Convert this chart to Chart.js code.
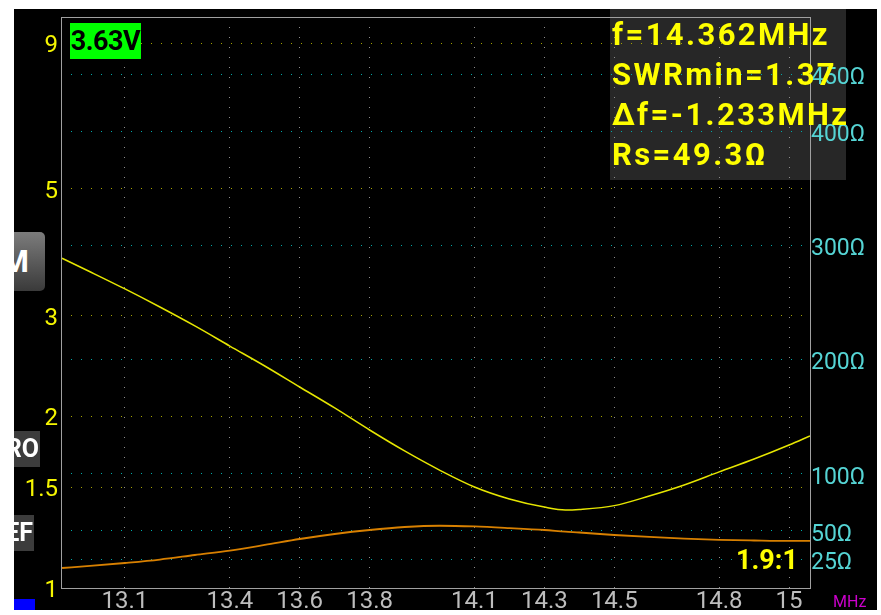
<!DOCTYPE html>
<html>
<head>
<meta charset="utf-8">
<title>SWR sweep</title>
<script src="https://cdn.jsdelivr.net/npm/chart.js@4.4.0/dist/chart.umd.min.js"></script>
<style>

html, body {
    margin: 0;
    padding: 0;
    width: 881px;
    height: 615px;
    overflow: hidden;
    background: #ffffff;
    font-family: Roboto, "Liberation Sans", sans-serif;
}

#screen {
    position: absolute;
    left: 14px;
    top: 9px;
    width: 863px;
    height: 601px;
    background: #000000;
    overflow: hidden;
}

#sweepChart {
    position: absolute;
    left: 0;
    top: 0;
    z-index: 2;
}

#infoPanel {
    position: absolute;
    left: 596px;
    top: 0;
    width: 236px;
    height: 171px;
    background: #272727;
    z-index: 1;
}

#infoText {
    position: absolute;
    left: 598px;
    top: 6px;
    z-index: 3;
    color: #ffff00;
    font-weight: bold;
    font-size: 31px;
    line-height: 40px;
    letter-spacing: 2.4px;
    white-space: nowrap;
}

#voltage {
    position: absolute;
    left: 56px;
    top: 14px;
    width: 71px;
    height: 36px;
    background: #00ff00;
    color: #000000;
    font-weight: bold;
    font-size: 27px;
    line-height: 37px;
    text-align: center;
    letter-spacing: -0.5px;
    z-index: 3;
}

#ratio {
    position: absolute;
    left: 722px;
    top: 535px;
    color: #ffff00;
    font-weight: bold;
    font-size: 27px;
    z-index: 3;
}

#unit {
    position: absolute;
    left: 819px;
    top: 583px;
    color: #cc00cc;
    font-size: 16px;
    z-index: 3;
}

.sideBtn {
    position: absolute;
    color: #ffffff;
    font-weight: bold;
    text-align: right;
    z-index: 3;
}

#btnM {
    left: -25px;
    top: 223px;
    width: 56px;
    height: 59px;
    line-height: 59px;
    font-size: 31px;
    border-radius: 5px;
    background: linear-gradient(#7c7c7c, #3a3a3a);
    box-sizing: border-box;
    padding-right: 16px;
}

#btnRO {
    left: -30px;
    top: 422px;
    width: 56px;
    height: 36px;
    line-height: 36px;
    font-size: 25px;
    background: #3c3c3c;
    box-sizing: border-box;
    padding-right: 1px;
}

#btnEF {
    left: -36px;
    top: 506px;
    width: 56px;
    height: 36px;
    line-height: 36px;
    font-size: 25px;
    background: #3c3c3c;
    box-sizing: border-box;
    padding-right: 1px;
}

#blueMark {
    position: absolute;
    left: 0;
    top: 590px;
    width: 21px;
    height: 11px;
    background: #0000ff;
    z-index: 3;
}

</style>
</head>
<body>

<div id="screen">

    <div id="infoPanel"></div>

    <canvas id="sweepChart" width="863" height="601"></canvas>

    <div id="infoText">
        <div>f=14.362MHz</div>
        <div>SWRmin=1.37</div>
        <div>Δf=-1.233MHz</div>
        <div>Rs=49.3Ω</div>
    </div>

    <div id="voltage">3.63V</div>

    <div id="ratio">1.9:1</div>

    <div id="unit">MHz</div>

    <div class="sideBtn" id="btnM">M</div>
    <div class="sideBtn" id="btnRO">RO</div>
    <div class="sideBtn" id="btnEF">EF</div>

    <div id="blueMark"></div>

</div>

<script>

/*==================================================
SWEEP DATA
==================================================*/

const freqMHz = [
    12.92, 13.0, 13.1, 13.2, 13.3, 13.4, 13.5, 13.6, 13.7, 13.8,
    13.9, 14.0, 14.1, 14.2, 14.3, 14.36, 14.4, 14.5, 14.6, 14.7,
    14.8, 14.9, 15.0, 15.06
];

const swrValues = [
    3.78, 3.58, 3.34, 3.105, 2.877, 2.653, 2.448, 2.249, 2.067, 1.891,
    1.738, 1.609, 1.503, 1.432, 1.386, 1.37, 1.373, 1.394, 1.449, 1.515,
    1.597, 1.682, 1.78, 1.846
];

const rsOhms = [
    17.5, 19.3, 21.9, 24.9, 28.9, 32.8, 37.7, 42.9, 47.3, 50.8,
    53.4, 54.5, 53.9, 52.5, 50.8, 49.3, 48.6, 46.4, 44.7, 43.3,
    42.2, 41.6, 41.2, 41.2
];

const freqTicks = [13.1, 13.4, 13.6, 13.8, 14.1, 14.3, 14.5, 14.8, 15];

const swrTicks = [1, 1.5, 2, 3, 5, 9];

const ohmTicks = [25, 50, 100, 200, 300, 400, 450];

/*==================================================
FRAME AROUND PLOT AREA
==================================================*/

const plotFrame = {

    id: "plotFrame",

    afterDatasetsDraw(chart) {

        const a = chart.chartArea;
        const ctx = chart.ctx;

        ctx.save();
        ctx.strokeStyle = "#a0a0a0";
        ctx.lineWidth = 1;
        ctx.strokeRect(Math.round(a.left) + 0.5, Math.round(a.top) + 0.5,
            Math.round(a.right - a.left), Math.round(a.bottom - a.top));
        ctx.restore();

    }

};

// keep the plot area fixed, whatever the label sizes are
function fixSide(s, size) {

    if (s.isHorizontal()) {

        s.height = size;
        s.paddingLeft = 0;
        s.paddingRight = 0;

    } else {

        s.width = size;
        s.paddingTop = 8;
        s.paddingBottom = 0;

    }

}

/*==================================================
CHART
==================================================*/

function createSweepChart() {

    const ctx = document.getElementById("sweepChart");

    new Chart(ctx, {

        type: "line",

        data: {

            datasets: [

                {
                    label: "SWR",
                    data: freqMHz.map((f, i) => ({ x: f, y: swrValues[i] })),
                    yAxisID: "y",
                    borderColor: "#e6e600",
                    borderWidth: 1.5,
                    pointRadius: 0,
                    cubicInterpolationMode: "monotone"
                },

                {
                    label: "Rs",
                    data: freqMHz.map((f, i) => ({ x: f, y: rsOhms[i] })),
                    yAxisID: "y1",
                    borderColor: "#d88000",
                    borderWidth: 1.8,
                    pointRadius: 0,
                    cubicInterpolationMode: "monotone"
                }

            ]

        },

        options: {

            responsive: false,

            animation: false,

            devicePixelRatio: 1,

            layout: {

                padding: { top: 8, left: 0, right: 0, bottom: 0 }

            },

            plugins: {

                legend: { display: false },

                tooltip: { enabled: false }

            },

            scales: {

                x: {

                    type: "linear",

                    min: 12.917,

                    max: 15.06,

                    afterBuildTicks: s => { s.ticks = freqTicks.map(v => ({ value: v })); },

                    afterFit: s => fixSide(s, 22),

                    ticks: {

                        color: "#bdbdbd",

                        padding: 0,

                        maxRotation: 0,

                        autoSkip: false,

                        font: { family: "Roboto", size: 24 },

                        callback: v => String(v)

                    },

                    grid: {

                        color: "#8c8c8c",

                        drawTicks: false

                    },

                    border: { display: false, dash: [1, 9] }

                },

                y: {

                    type: "logarithmic",

                    position: "left",

                    min: 1,

                    max: 10,

                    afterBuildTicks: s => { s.ticks = swrTicks.map(v => ({ value: v })); },

                    afterFit: s => fixSide(s, 47),

                    ticks: {

                        color: "#f5f500",

                        padding: 3,

                        labelOffset: 3,

                        autoSkip: false,

                        font: { family: "Roboto", size: 24 },

                        callback: v => String(v)

                    },

                    grid: {

                        color: "#a3a300",

                        drawTicks: false

                    },

                    border: { display: false, dash: [1, 9] }

                },

                y1: {

                    type: "linear",

                    position: "right",

                    min: 0,

                    max: 500,

                    afterBuildTicks: s => { s.ticks = ohmTicks.map(v => ({ value: v })); },

                    afterFit: s => fixSide(s, 67),

                    ticks: {

                        color: "#55d4d4",

                        padding: 1,

                        labelOffset: 4,

                        autoSkip: false,

                        font: { family: "Roboto", size: 23 },

                        callback: v => v + "Ω"

                    },

                    grid: {

                        color: "#00a8a8",

                        drawTicks: false

                    },

                    border: { display: false, dash: [1, 9] }

                }

            }

        },

        plugins: [plotFrame]

    });

}

createSweepChart();

</script>

</body>
</html>
